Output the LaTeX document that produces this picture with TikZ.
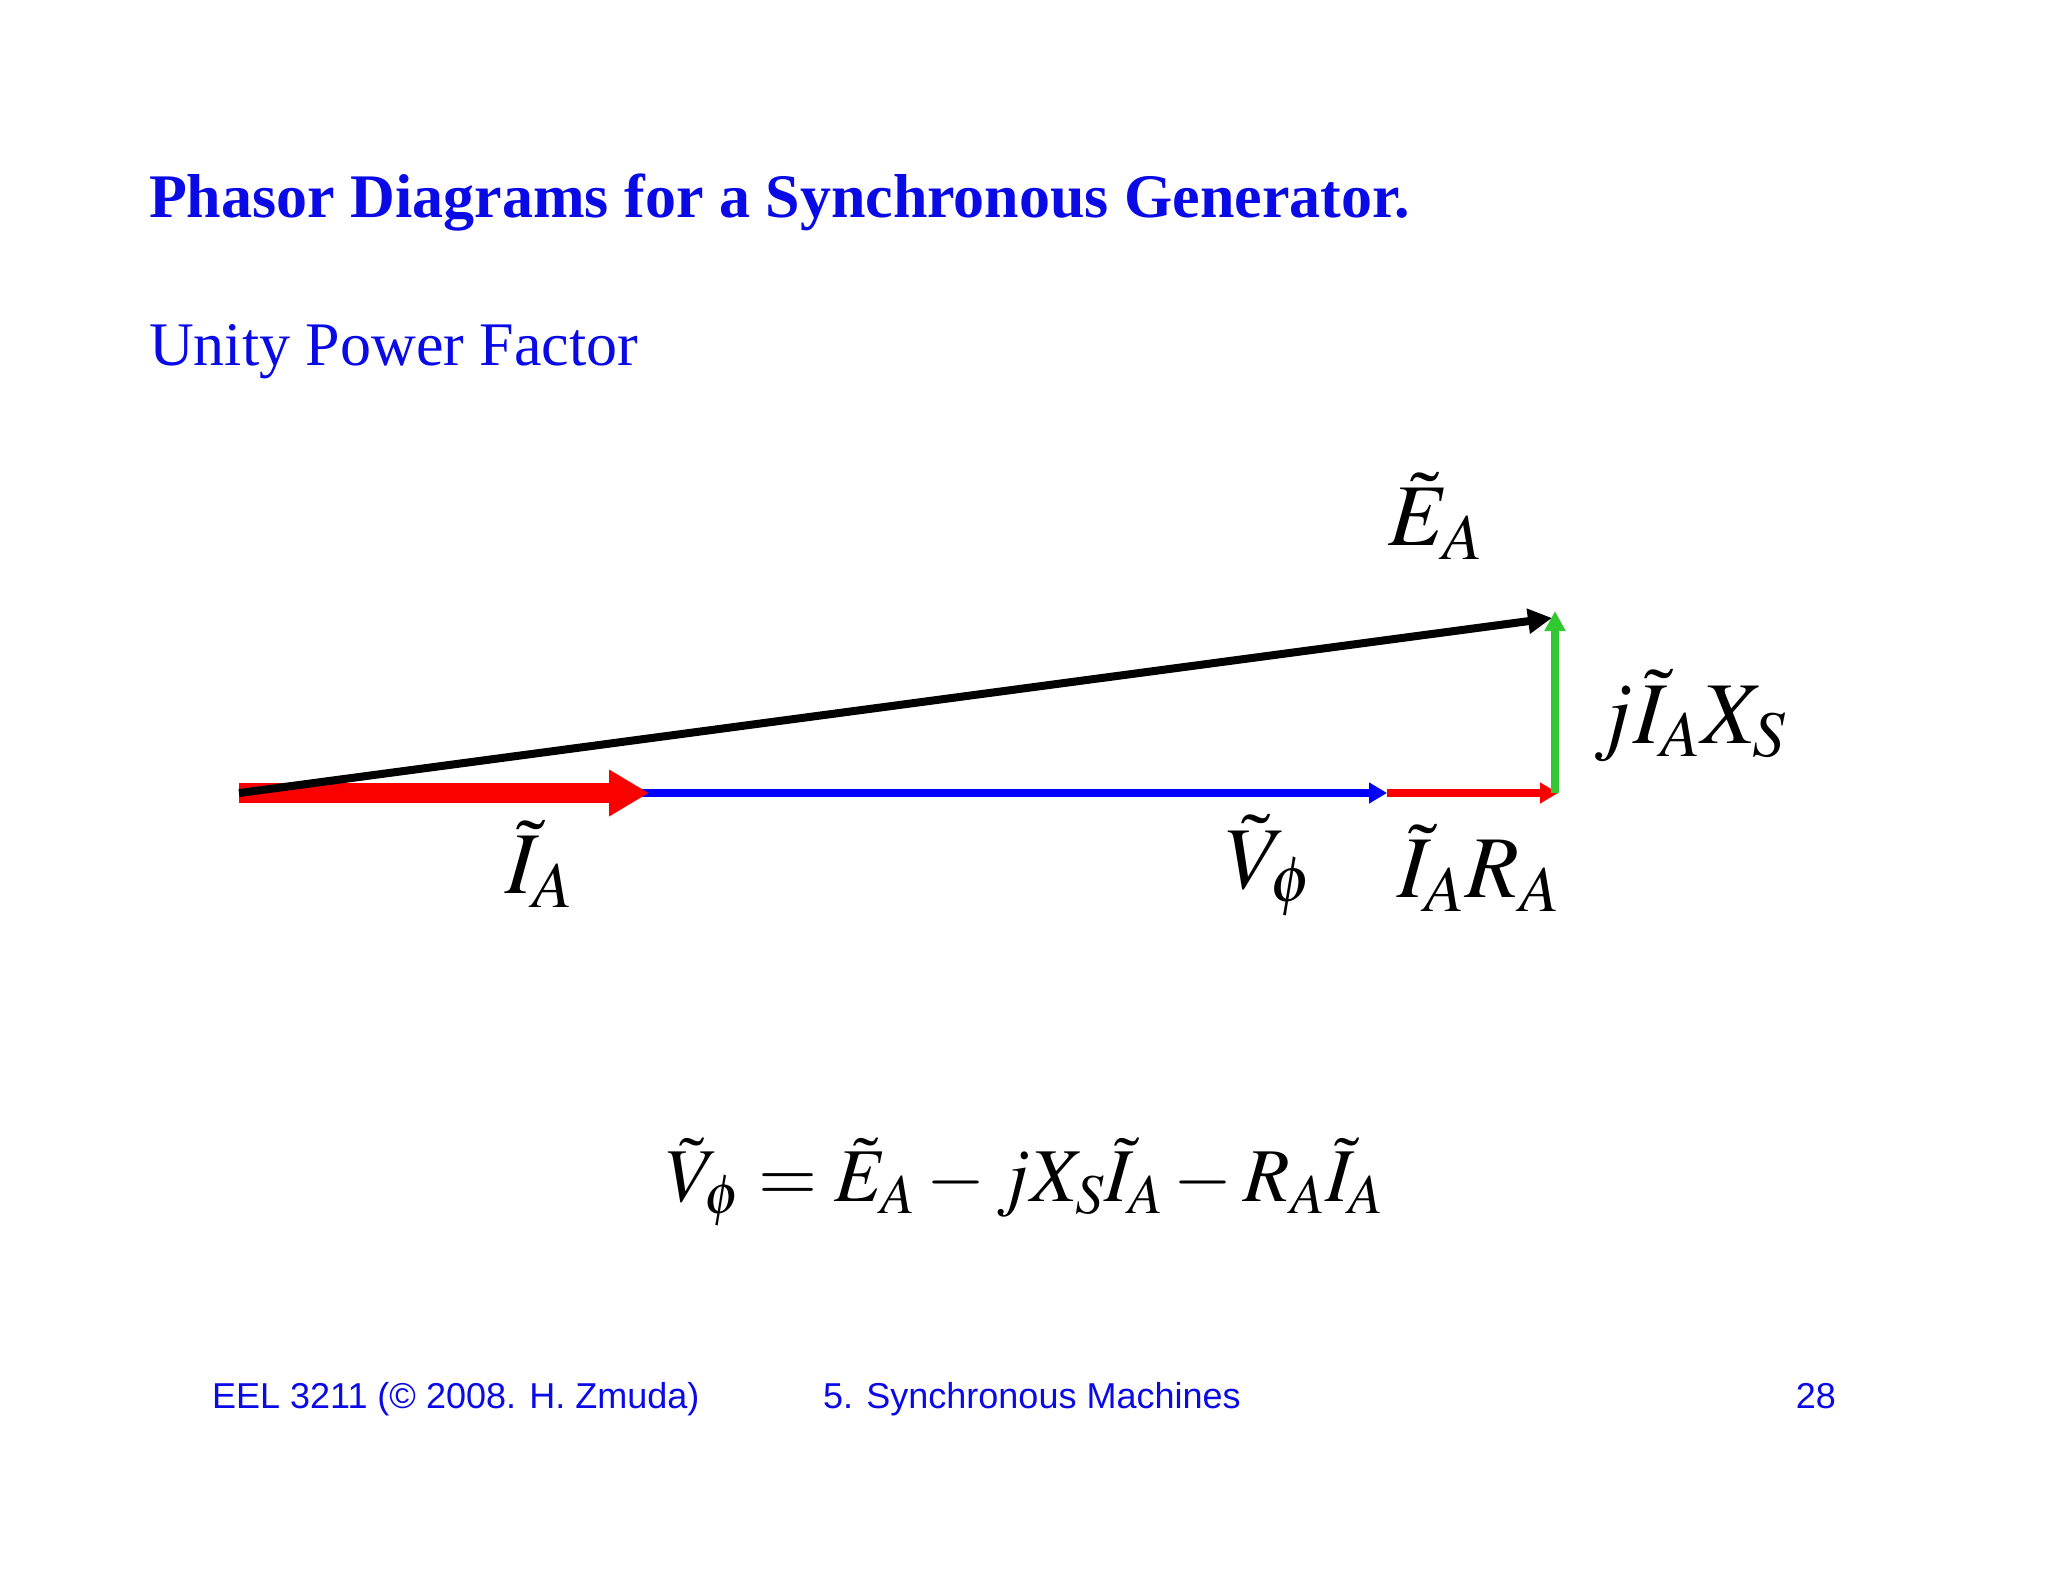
\documentclass[tikz,border=0pt]{standalone}
\usepackage{mathptmx}
\usepackage{fontspec}
\setmainfont{Liberation Serif}
\setsansfont{Liberation Sans}
\usetikzlibrary{arrows.meta}
\definecolor{ttl}{RGB}{10,10,230}
\definecolor{grn}{RGB}{50,200,50}
\definecolor{rd}{RGB}{250,0,0}
\tikzset{lbl/.style={font=\fontsize{44}{48}\selectfont},
ft/.style={font=\sffamily\fontsize{18}{20}\selectfont,text=ttl,anchor=base west}}
\begin{document}
\begin{tikzpicture}[x=0.5pt,y=-0.5pt]
\useasboundingbox (0,0) rectangle (2048,1582);
\node[anchor=west,text=ttl,font=\bfseries\fontsize{31}{36}\selectfont] (title) at (142,203) {Phasor Diagrams for a Synchronous Generator.};
\node[anchor=west,text=ttl,font=\fontsize{31}{36}\selectfont] (sub) at (142,352) {Unity Power Factor};
\coordinate (O) at (239,793);
\coordinate (Ia) at (649,793);
\coordinate (V) at (1387,793);
\coordinate (R) at (1558,793);
\coordinate (T) at (1555,611);
\coordinate (E) at (1552,618);
\draw[blue,line width=4pt,-{Triangle[length=9pt,width=10pt]}] (O) -- (V);
\draw[rd,line width=4pt,-{Triangle[length=9pt,width=10pt]}] (V) -- (R);
\draw[rd,line width=10pt,-{Triangle[length=20pt,width=22pt]}] (O) -- (Ia);
\draw[grn,line width=4pt,-{Triangle[length=10pt,width=10pt]}] (1555,793) -- (T);
\draw[black,line width=4pt,-{Triangle[length=12pt,width=12pt]}] (O) -- (E);
\node[lbl] (le) at (1436,516) {$\tilde{E}_A$};
\node[lbl] (lx) at (1690,716) {$j\tilde{I}_AX_S$};
\node[lbl] (li) at (539,864) {$\tilde{I}_A$};
\node[lbl] (lv) at (1269,866) {$\tilde{V}_\phi$};
\node[lbl] (lr) at (1479,868) {$\tilde{I}_AR_A$};
\node[font=\fontsize{38}{42}\selectfont] (eq) at (1025,1182) {$\tilde{V}_\phi=\tilde{E}_A-jX_S\tilde{I}_A-R_A\tilde{I}_A$};
\node[ft] (f1) at (205,1408) {EEL 3211 (© 2008. H. Zmuda)};
\node[ft] (f2) at (816,1408) {5. Synchronous Machines};
\node[ft,anchor=base east] (f3) at (1843,1408) {28};
\end{tikzpicture}
\end{document}
